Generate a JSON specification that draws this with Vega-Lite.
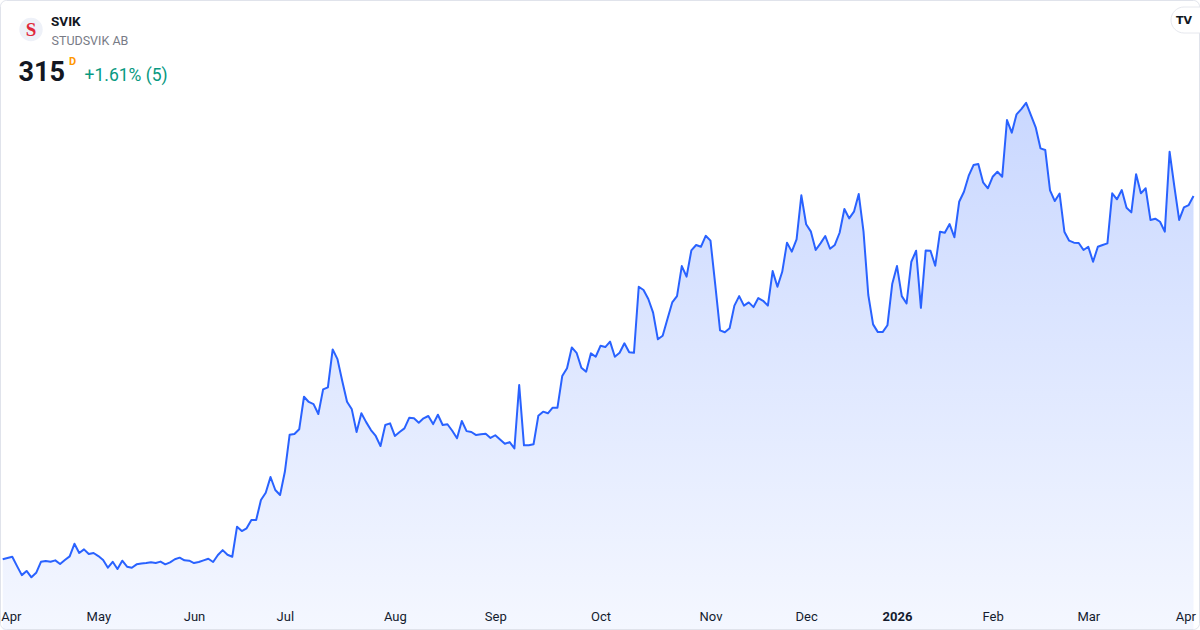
{
  "$schema": "https://vega.github.io/schema/vega-lite/v6.json",
  "width": 1200,
  "height": 605,
  "autosize": {"type": "none"},
  "padding": {"left": 0, "top": 0, "right": 0, "bottom": 25},
  "background": "white",
  "config": {"view": {"stroke": null}, "font": "Roboto"},
  "datasets": {
    "prices": [
      {"date":"2025-04-01","close":113.2},{"date":"2025-04-02","close":113.9},{"date":"2025-04-03","close":114.6},{"date":"2025-04-04","close":109.4},{"date":"2025-04-07","close":104.4},{"date":"2025-04-08","close":106.7},{"date":"2025-04-09","close":103.2},{"date":"2025-04-10","close":105.7},{"date":"2025-04-11","close":111.8},{"date":"2025-04-14","close":112.2},{"date":"2025-04-15","close":111.8},{"date":"2025-04-16","close":112.6},{"date":"2025-04-17","close":110.6},{"date":"2025-04-22","close":112.8},{"date":"2025-04-23","close":114.8},{"date":"2025-04-24","close":121.8},{"date":"2025-04-25","close":116.7},{"date":"2025-04-28","close":118.7},{"date":"2025-04-29","close":116.1},{"date":"2025-04-30","close":116.7},
      {"date":"2025-05-02","close":115.0},{"date":"2025-05-05","close":112.8},{"date":"2025-05-06","close":108.5},{"date":"2025-05-07","close":111.8},{"date":"2025-05-08","close":107.8},{"date":"2025-05-09","close":112.4},{"date":"2025-05-12","close":109.1},{"date":"2025-05-13","close":108.5},{"date":"2025-05-14","close":110.4},{"date":"2025-05-15","close":110.9},{"date":"2025-05-16","close":111.1},{"date":"2025-05-19","close":111.5},{"date":"2025-05-20","close":111.1},{"date":"2025-05-21","close":111.9},{"date":"2025-05-22","close":110.4},{"date":"2025-05-23","close":111.5},{"date":"2025-05-26","close":113.2},{"date":"2025-05-27","close":114.1},{"date":"2025-05-28","close":112.6},{"date":"2025-05-30","close":112.4},
      {"date":"2025-06-02","close":111.1},{"date":"2025-06-03","close":111.7},{"date":"2025-06-04","close":112.6},{"date":"2025-06-05","close":113.5},{"date":"2025-06-09","close":111.7},{"date":"2025-06-10","close":115.6},{"date":"2025-06-11","close":118.3},{"date":"2025-06-12","close":115.7},{"date":"2025-06-13","close":114.6},{"date":"2025-06-16","close":131.3},{"date":"2025-06-17","close":128.9},{"date":"2025-06-18","close":130.4},{"date":"2025-06-19","close":135.0},{"date":"2025-06-23","close":135.0},{"date":"2025-06-24","close":146.1},{"date":"2025-06-25","close":150.2},{"date":"2025-06-26","close":158.9},{"date":"2025-06-27","close":151.7},{"date":"2025-06-30","close":148.9},
      {"date":"2025-07-01","close":161.8},{"date":"2025-07-02","close":182.4},{"date":"2025-07-03","close":182.8},{"date":"2025-07-04","close":185.4},{"date":"2025-07-07","close":203.5},{"date":"2025-07-08","close":200.6},{"date":"2025-07-09","close":199.4},{"date":"2025-07-10","close":193.9},{"date":"2025-07-11","close":207.6},{"date":"2025-07-14","close":208.7},{"date":"2025-07-15","close":229.8},{"date":"2025-07-16","close":224.4},{"date":"2025-07-17","close":212.2},{"date":"2025-07-18","close":200.7},{"date":"2025-07-21","close":196.5},{"date":"2025-07-22","close":183.9},{"date":"2025-07-23","close":194.3},{"date":"2025-07-24","close":189.4},{"date":"2025-07-25","close":185.0},{"date":"2025-07-28","close":181.7},{"date":"2025-07-29","close":176.1},{"date":"2025-07-30","close":187.8},{"date":"2025-07-31","close":188.7},
      {"date":"2025-08-01","close":181.7},{"date":"2025-08-04","close":183.9},{"date":"2025-08-05","close":185.9},{"date":"2025-08-06","close":191.8},{"date":"2025-08-07","close":191.5},{"date":"2025-08-08","close":189.1},{"date":"2025-08-11","close":191.5},{"date":"2025-08-12","close":192.8},{"date":"2025-08-13","close":188.3},{"date":"2025-08-14","close":193.5},{"date":"2025-08-15","close":187.8},{"date":"2025-08-18","close":188.2},{"date":"2025-08-19","close":184.6},{"date":"2025-08-20","close":180.4},{"date":"2025-08-21","close":190.0},{"date":"2025-08-22","close":184.4},{"date":"2025-08-25","close":183.9},{"date":"2025-08-26","close":182.2},{"date":"2025-08-27","close":182.6},{"date":"2025-08-28","close":182.9},{"date":"2025-08-29","close":180.6},
      {"date":"2025-09-01","close":182.1},{"date":"2025-09-02","close":179.8},{"date":"2025-09-03","close":177.4},{"date":"2025-09-04","close":178.3},{"date":"2025-09-05","close":174.8},{"date":"2025-09-08","close":210.0},{"date":"2025-09-09","close":176.5},{"date":"2025-09-10","close":176.5},{"date":"2025-09-11","close":177.1},{"date":"2025-09-12","close":192.9},{"date":"2025-09-15","close":195.2},{"date":"2025-09-16","close":194.3},{"date":"2025-09-17","close":197.4},{"date":"2025-09-18","close":197.4},{"date":"2025-09-19","close":215.0},{"date":"2025-09-22","close":219.3},{"date":"2025-09-23","close":230.9},{"date":"2025-09-24","close":227.9},{"date":"2025-09-25","close":219.6},{"date":"2025-09-26","close":217.4},{"date":"2025-09-29","close":227.6},{"date":"2025-09-30","close":225.7},
      {"date":"2025-10-01","close":231.8},{"date":"2025-10-02","close":231.1},{"date":"2025-10-03","close":234.1},{"date":"2025-10-06","close":225.7},{"date":"2025-10-07","close":227.9},{"date":"2025-10-08","close":233.2},{"date":"2025-10-09","close":228.2},{"date":"2025-10-10","close":227.9},{"date":"2025-10-13","close":264.6},{"date":"2025-10-14","close":262.8},{"date":"2025-10-15","close":257.8},{"date":"2025-10-16","close":250.2},{"date":"2025-10-17","close":235.4},{"date":"2025-10-20","close":237.4},{"date":"2025-10-21","close":246.7},{"date":"2025-10-22","close":255.9},{"date":"2025-10-23","close":259.4},{"date":"2025-10-24","close":276.1},{"date":"2025-10-27","close":270.2},{"date":"2025-10-28","close":284.8},{"date":"2025-10-29","close":287.8},{"date":"2025-10-30","close":286.8},{"date":"2025-10-31","close":292.9},
      {"date":"2025-11-03","close":290.2},{"date":"2025-11-04","close":265.6},{"date":"2025-11-05","close":240.4},{"date":"2025-11-06","close":239.3},{"date":"2025-11-07","close":241.5},{"date":"2025-11-10","close":254.1},{"date":"2025-11-11","close":259.4},{"date":"2025-11-12","close":254.1},{"date":"2025-11-13","close":255.9},{"date":"2025-11-14","close":253.3},{"date":"2025-11-17","close":258.3},{"date":"2025-11-18","close":256.8},{"date":"2025-11-19","close":254.1},{"date":"2025-11-20","close":273.3},{"date":"2025-11-21","close":264.6},{"date":"2025-11-24","close":272.9},{"date":"2025-11-25","close":289.1},{"date":"2025-11-26","close":284.1},{"date":"2025-11-27","close":290.9},{"date":"2025-11-28","close":315.4},
      {"date":"2025-12-01","close":299.3},{"date":"2025-12-02","close":295.2},{"date":"2025-12-03","close":285.0},{"date":"2025-12-04","close":288.7},{"date":"2025-12-05","close":292.8},{"date":"2025-12-08","close":285.7},{"date":"2025-12-09","close":287.8},{"date":"2025-12-10","close":294.6},{"date":"2025-12-11","close":307.8},{"date":"2025-12-12","close":302.6},{"date":"2025-12-15","close":306.3},{"date":"2025-12-16","close":316.1},{"date":"2025-12-17","close":295.2},{"date":"2025-12-18","close":260.0},{"date":"2025-12-19","close":243.7},{"date":"2025-12-22","close":239.4},{"date":"2025-12-23","close":239.4},{"date":"2025-12-29","close":243.2},{"date":"2025-12-30","close":266.1},
      {"date":"2026-01-02","close":276.1},{"date":"2026-01-05","close":259.4},{"date":"2026-01-07","close":255.3},{"date":"2026-01-08","close":278.5},{"date":"2026-01-09","close":284.6},{"date":"2026-01-12","close":252.9},{"date":"2026-01-13","close":284.8},{"date":"2026-01-14","close":284.6},{"date":"2026-01-15","close":276.3},{"date":"2026-01-16","close":295.2},{"date":"2026-01-19","close":294.6},{"date":"2026-01-20","close":299.4},{"date":"2026-01-21","close":292.1},{"date":"2026-01-22","close":311.8},{"date":"2026-01-23","close":317.4},{"date":"2026-01-26","close":326.3},{"date":"2026-01-27","close":332.2},{"date":"2026-01-28","close":332.8},{"date":"2026-01-29","close":322.6},{"date":"2026-01-30","close":319.3},
      {"date":"2026-02-02","close":325.7},{"date":"2026-02-03","close":328.5},{"date":"2026-02-04","close":325.7},{"date":"2026-02-05","close":357.2},{"date":"2026-02-06","close":350.2},{"date":"2026-02-09","close":360.4},{"date":"2026-02-10","close":363.3},{"date":"2026-02-11","close":366.8},{"date":"2026-02-12","close":360.0},{"date":"2026-02-13","close":353.2},{"date":"2026-02-16","close":341.5},{"date":"2026-02-17","close":340.6},{"date":"2026-02-18","close":318.1},{"date":"2026-02-19","close":312.2},{"date":"2026-02-20","close":316.4},{"date":"2026-02-23","close":295.2},{"date":"2026-02-24","close":290.2},{"date":"2026-02-25","close":289.1},{"date":"2026-02-26","close":288.9},{"date":"2026-02-27","close":285.0},
      {"date":"2026-03-02","close":286.8},{"date":"2026-03-03","close":278.5},{"date":"2026-03-04","close":286.8},{"date":"2026-03-05","close":287.8},{"date":"2026-03-06","close":288.7},{"date":"2026-03-09","close":316.5},{"date":"2026-03-10","close":313.2},{"date":"2026-03-11","close":318.3},{"date":"2026-03-12","close":308.5},{"date":"2026-03-13","close":305.9},{"date":"2026-03-16","close":327.1},{"date":"2026-03-17","close":316.5},{"date":"2026-03-18","close":319.3},{"date":"2026-03-19","close":301.7},{"date":"2026-03-20","close":302.4},{"date":"2026-03-23","close":300.7},{"date":"2026-03-24","close":295.2},{"date":"2026-03-25","close":339.6},{"date":"2026-03-26","close":320.2},{"date":"2026-03-27","close":301.7},{"date":"2026-03-30","close":308.7},{"date":"2026-03-31","close":310.0},
      {"date":"2026-04-01","close":315.0}
    ],
    "quote": [
      {"symbol": "SVIK", "name": "STUDSVIK AB", "last": "315", "flag": "D", "change": "+1.61% (5)"}
    ]
  },
  "layer": [
    {
      "data": {"name": "prices"},
      "mark": {
        "type": "area",
        "line": false,
        "fill": {
          "gradient": "linear",
          "x1": 0, "y1": -0.205, "x2": 0, "y2": 1,
          "stops": [
            {"offset": 0, "color": "rgba(41,98,255,0.3)"},
            {"offset": 1, "color": "rgba(41,98,255,0)"}
          ]
        }
      },
      "encoding": {
        "x": {
          "field": "date", "type": "ordinal",
          "scale": {"type": "point", "range": [2.7, 1193.5], "padding": 0},
          "axis": {
            "values": ["2025-04-01","2025-05-02","2025-06-02","2025-07-01","2025-08-01","2025-09-01","2025-10-01","2025-11-03","2025-12-01","2026-01-02","2026-02-02","2026-03-02","2026-04-01"],
            "labelExpr": "datum.value == '2026-01-02' ? '2026' : ['Jan','Feb','Mar','Apr','May','Jun','Jul','Aug','Sep','Oct','Nov','Dec'][toNumber(substring(datum.value, 5, 7)) - 1]",
            "title": null,
            "domain": false,
            "ticks": false,
            "grid": false,
            "labelAngle": 0,
            "labelFlush": true,
            "labelFlushOffset": 2,
            "labelPadding": 5,
            "labelOverlap": false,
            "labelFont": "Roboto",
            "labelFontSize": 13,
            "labelColor": "#131722",
            "labelFontWeight": {"condition": {"test": "datum.value == '2026-01-02'", "value": "bold"}, "value": "normal"}
          }
        },
        "y": {
          "field": "close", "type": "quantitative",
          "scale": {"domain": [87.8, 423.9], "nice": false, "zero": false},
          "axis": null
        }
      }
    },
    {
      "data": {"name": "prices"},
      "mark": {"type": "line", "color": "#2962FF", "strokeWidth": 2, "strokeJoin": "round"},
      "encoding": {
        "x": {"field": "date", "type": "ordinal"},
        "y": {"field": "close", "type": "quantitative"}
      }
    },
    {
      "data": {"values": [{}]},
      "mark": {"type": "rect", "fillOpacity": 0, "stroke": "#E0E3EB", "strokeWidth": 1, "cornerRadius": 6, "clip": false},
      "encoding": {"x": {"value": 0.5}, "x2": {"value": 1199.5}, "y": {"value": 0.5}, "y2": {"value": 629.5}}
    },
    {
      "data": {"values": [{}]},
      "mark": {"type": "rect", "fill": "white", "stroke": "#E6E8EE", "strokeWidth": 1, "cornerRadius": 13},
      "encoding": {"x": {"value": 1171}, "x2": {"value": 1215}, "y": {"value": 7}, "y2": {"value": 33}}
    },
    {
      "data": {"values": [{}]},
      "mark": {"type": "text", "text": "TV", "font": "DejaVu Sans", "fontWeight": 900, "fontSize": 11, "color": "#131722", "align": "center", "baseline": "middle"},
      "encoding": {"x": {"value": 1184}, "y": {"value": 20.5}}
    },
    {
      "data": {"name": "quote"},
      "mark": {"type": "point", "shape": "circle", "filled": true, "size": 548, "color": "#EEF1F8", "opacity": 1},
      "encoding": {"x": {"value": 31}, "y": {"value": 29.5}}
    },
    {
      "data": {"name": "quote"},
      "mark": {"type": "text", "text": "S", "font": "Liberation Serif", "fontWeight": "bold", "fontSize": 19, "color": "#E0293B", "align": "center", "baseline": "middle"},
      "encoding": {"x": {"value": 31}, "y": {"value": 30}}
    },
    {
      "data": {"name": "quote"},
      "mark": {"type": "text", "font": "Roboto", "fontWeight": "bold", "fontSize": 13.5, "color": "#131722", "align": "left", "baseline": "alphabetic"},
      "encoding": {"x": {"value": 51}, "y": {"value": 26}, "text": {"field": "symbol"}}
    },
    {
      "data": {"name": "quote"},
      "mark": {"type": "text", "font": "Roboto", "fontSize": 12.5, "color": "#787B86", "align": "left", "baseline": "alphabetic"},
      "encoding": {"x": {"value": 51.5}, "y": {"value": 45.3}, "text": {"field": "name"}}
    },
    {
      "data": {"name": "quote"},
      "mark": {"type": "text", "font": "Roboto", "fontWeight": "bold", "fontSize": 27, "color": "#131722", "align": "left", "baseline": "alphabetic"},
      "encoding": {"x": {"value": 18.5}, "y": {"value": 80.5}, "text": {"field": "last"}}
    },
    {
      "data": {"name": "quote"},
      "mark": {"type": "text", "font": "Roboto", "fontWeight": "bold", "fontSize": 11, "color": "#FF9800", "align": "left", "baseline": "alphabetic"},
      "encoding": {"x": {"value": 69}, "y": {"value": 65}, "text": {"field": "flag"}}
    },
    {
      "data": {"name": "quote"},
      "mark": {"type": "text", "font": "Roboto", "fontSize": 17.5, "color": "#089981", "align": "left", "baseline": "alphabetic"},
      "encoding": {"x": {"value": 84.5}, "y": {"value": 80.5}, "text": {"field": "change"}}
    }
  ]
}
